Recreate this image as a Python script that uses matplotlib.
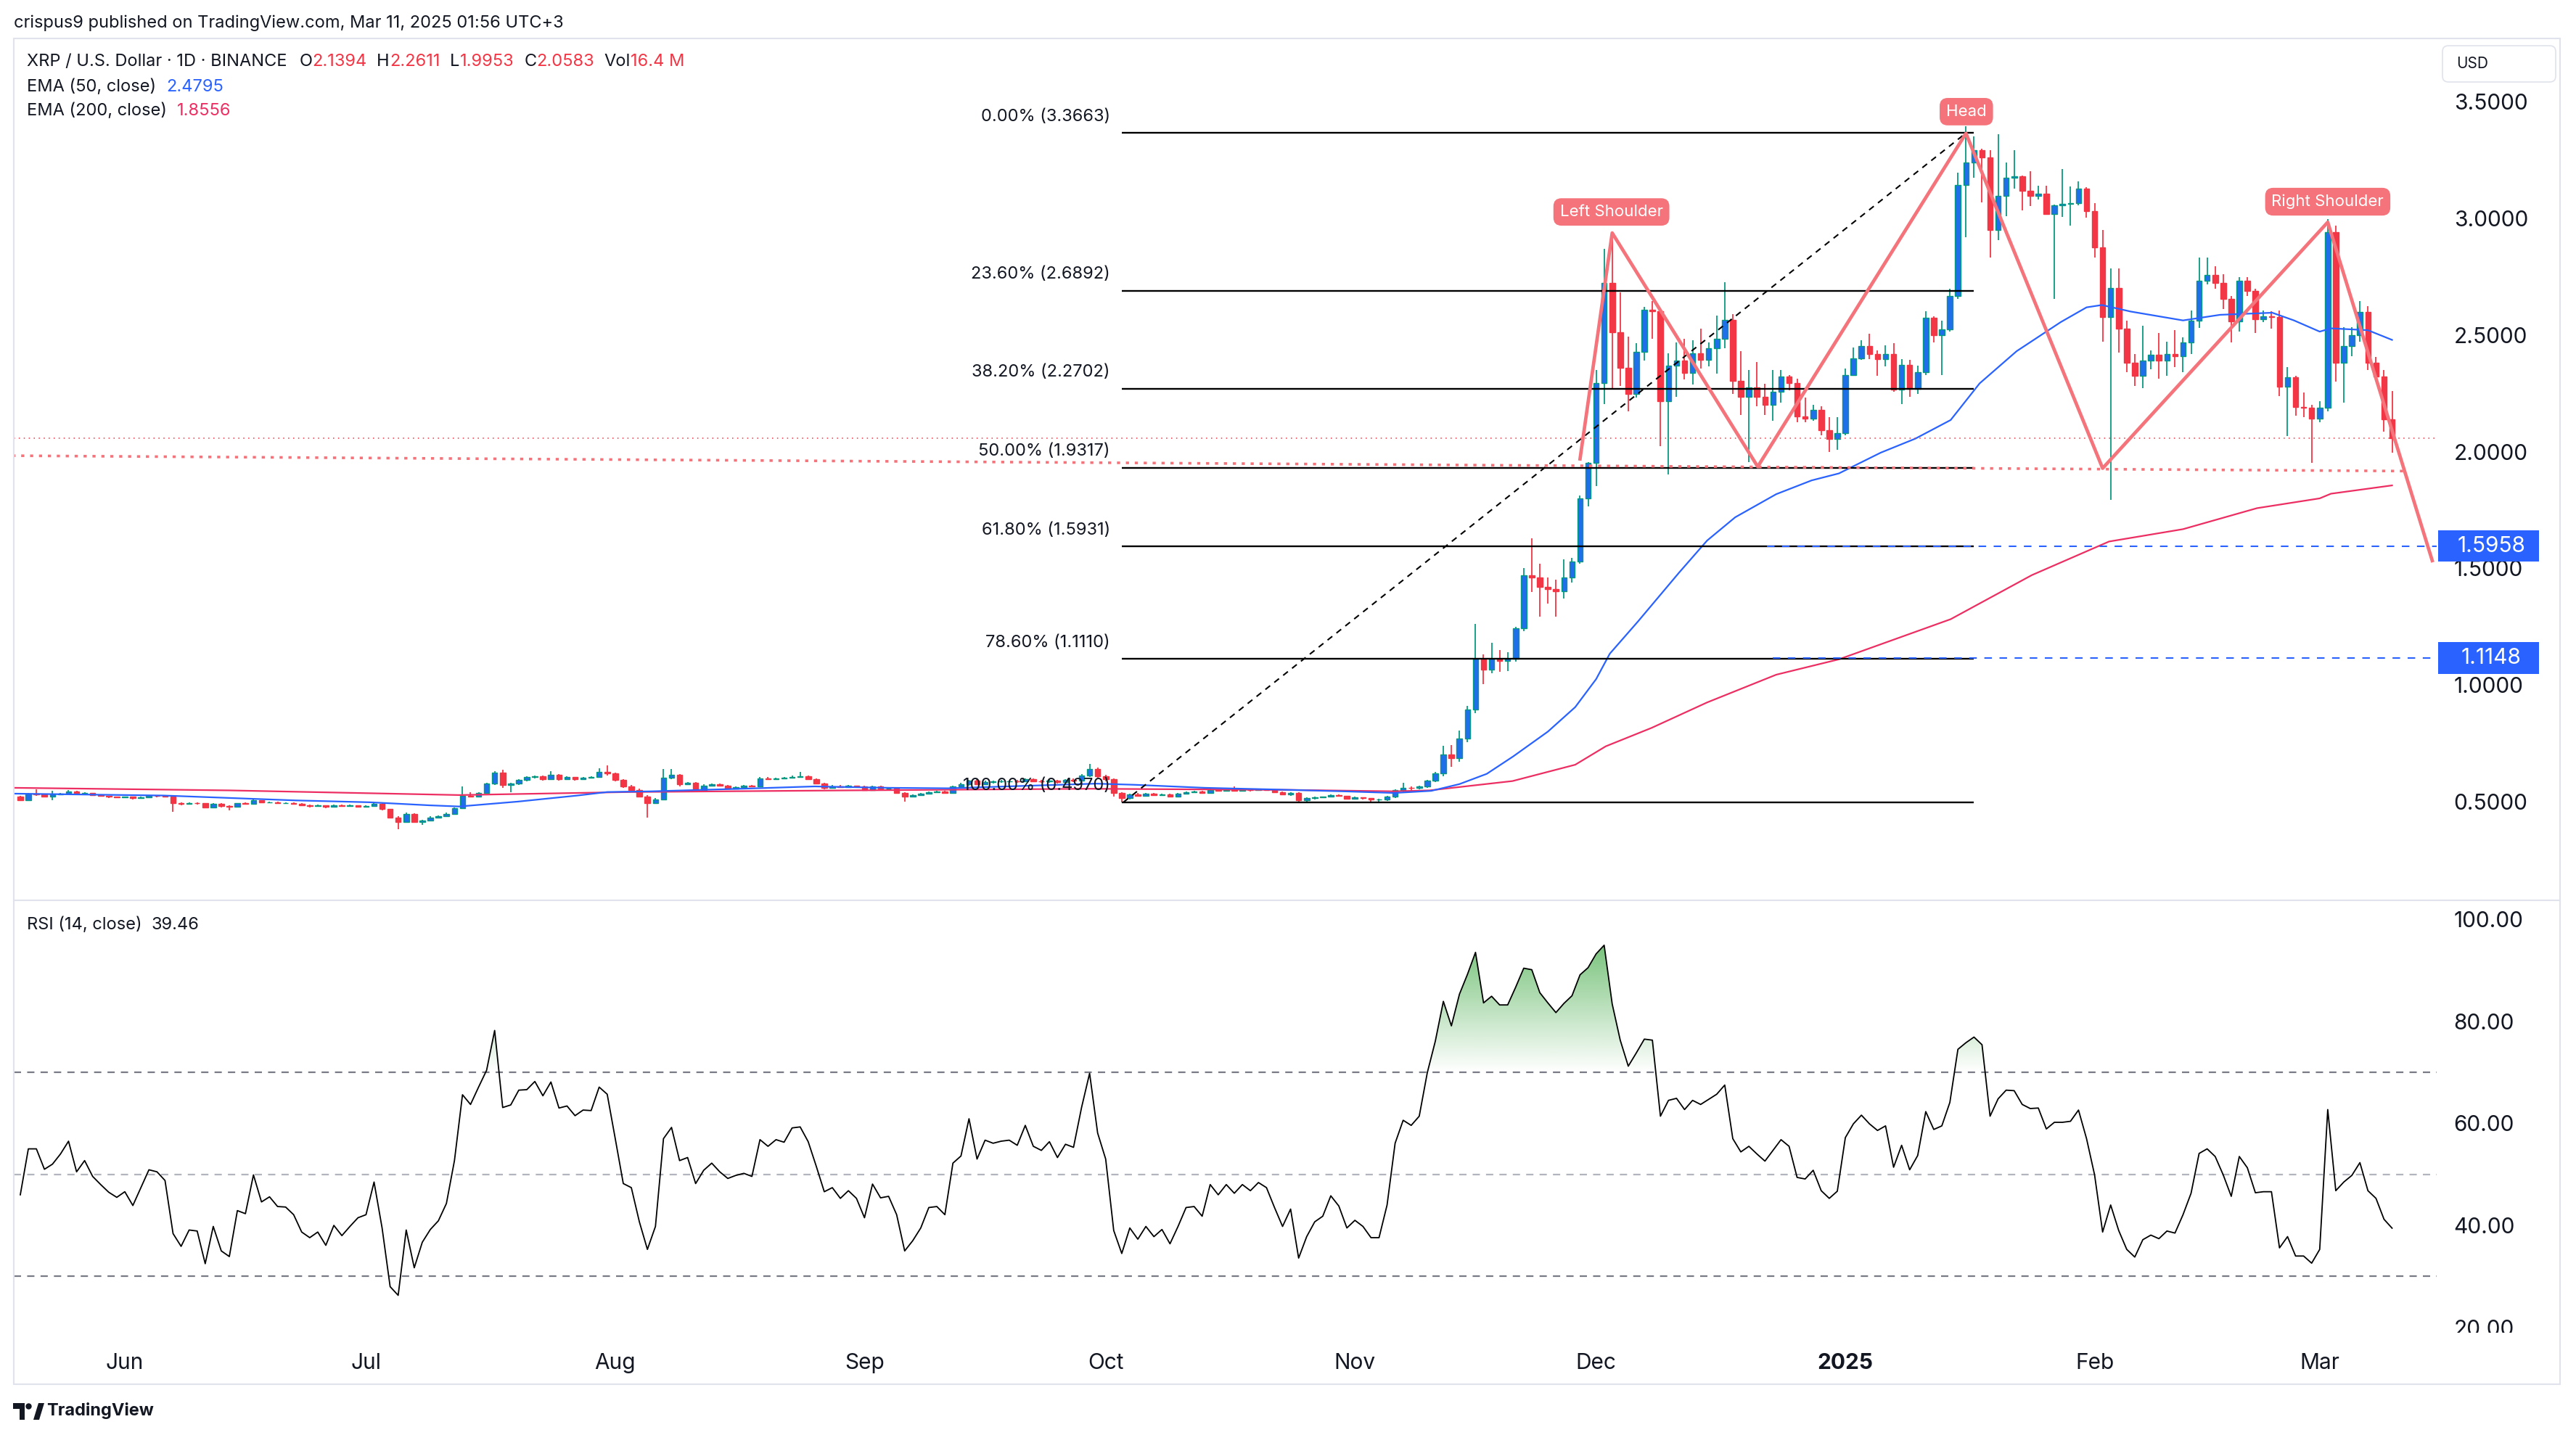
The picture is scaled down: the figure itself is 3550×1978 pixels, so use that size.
import numpy as np
import matplotlib
matplotlib.use("Agg")
import matplotlib.pyplot as plt
from matplotlib.patches import Rectangle, FancyBboxPatch, Circle, Polygon
from matplotlib.path import Path
from matplotlib.transforms import IdentityTransform
from matplotlib.colors import to_rgb

# ------------------------------------------------------------------ data
# day offsets are counted from 2024-06-01 (day 0); first candle = 2024-05-19
first_day = -13
first_open = 0.520

close = [
    0.507, 0.533, 0.530, 0.523, 0.531, 0.534, 0.544, 0.533, 0.537, 0.528,
    0.524, 0.520, 0.518, 0.520, 0.514, 0.519, 0.525, 0.524, 0.521, 0.495,
    0.490, 0.495, 0.494, 0.476, 0.490, 0.480, 0.477, 0.492, 0.491, 0.506,
    0.496, 0.498, 0.494, 0.494, 0.491, 0.483, 0.481, 0.483, 0.477, 0.484,
    0.480, 0.483, 0.479, 0.480, 0.490, 0.468, 0.432, 0.414, 0.448, 0.414,
    0.420, 0.432, 0.438, 0.448, 0.472, 0.526, 0.522, 0.536, 0.577, 0.624,
    0.570, 0.576, 0.592, 0.604, 0.608, 0.596, 0.614, 0.596, 0.604, 0.596,
    0.601, 0.606, 0.628, 0.620, 0.594, 0.566, 0.551, 0.522, 0.495, 0.509,
    0.603, 0.614, 0.575, 0.580, 0.548, 0.569, 0.573, 0.569, 0.557, 0.562,
    0.567, 0.566, 0.600, 0.597, 0.600, 0.602, 0.606, 0.610, 0.597, 0.579,
    0.558, 0.566, 0.563, 0.568, 0.565, 0.548, 0.566, 0.556, 0.557, 0.537,
    0.522, 0.528, 0.533, 0.540, 0.544, 0.537, 0.565, 0.573, 0.590, 0.575,
    0.584, 0.586, 0.587, 0.588, 0.586, 0.596, 0.588, 0.586, 0.591, 0.584,
    0.592, 0.590, 0.612, 0.640, 0.610, 0.596, 0.536, 0.515, 0.531, 0.526,
    0.533, 0.528, 0.531, 0.523, 0.533, 0.541, 0.542, 0.538, 0.551, 0.547,
    0.551, 0.547, 0.551, 0.548, 0.552, 0.550, 0.540, 0.530, 0.538, 0.505,
    0.514, 0.517, 0.520, 0.528, 0.524, 0.513, 0.517, 0.514, 0.508, 0.508,
    0.522, 0.548, 0.560, 0.558, 0.564, 0.590, 0.620, 0.702, 0.686, 0.769,
    0.895, 1.114, 1.065, 1.114, 1.104, 1.114, 1.243, 1.471, 1.461, 1.421,
    1.411, 1.401, 1.461, 1.530, 1.801, 1.951, 2.293, 2.724, 2.511, 2.359,
    2.247, 2.428, 2.610, 2.601, 2.216, 2.369, 2.392, 2.338, 2.421, 2.395,
    2.444, 2.483, 2.566, 2.304, 2.236, 2.276, 2.234, 2.200, 2.257, 2.321,
    2.293, 2.151, 2.141, 2.179, 2.091, 2.055, 2.079, 2.330, 2.400, 2.452,
    2.418, 2.397, 2.418, 2.267, 2.371, 2.270, 2.340, 2.573, 2.501, 2.525,
    2.667, 3.143, 3.240, 3.292, 3.262, 2.952, 3.098, 3.174, 3.181, 3.119,
    3.098, 3.105, 3.019, 3.056, 3.063, 3.066, 3.128, 3.031, 2.876, 2.577,
    2.702, 2.528, 2.383, 2.325, 2.392, 2.417, 2.392, 2.420, 2.411, 2.470,
    2.563, 2.734, 2.758, 2.723, 2.656, 2.559, 2.734, 2.688, 2.567, 2.581,
    2.577, 2.279, 2.320, 2.193, 2.188, 2.142, 2.188, 2.942, 2.383, 2.452,
    2.501, 2.598, 2.383, 2.323, 2.1394, 2.0583,
]
high = [
    0.525, 0.538, 0.552, 0.534, 0.545, 0.538, 0.548, 0.546, 0.540, 0.538,
    0.530, 0.526, 0.523, 0.523, 0.521, 0.521, 0.528, 0.528, 0.526, 0.523,
    0.498, 0.498, 0.498, 0.495, 0.493, 0.492, 0.484, 0.494, 0.496, 0.509,
    0.507, 0.501, 0.500, 0.497, 0.496, 0.492, 0.486, 0.486, 0.485, 0.487,
    0.486, 0.486, 0.485, 0.484, 0.493, 0.492, 0.470, 0.436, 0.452, 0.450,
    0.423, 0.436, 0.442, 0.452, 0.476, 0.565, 0.540, 0.540, 0.582, 0.630,
    0.636, 0.582, 0.597, 0.610, 0.612, 0.612, 0.630, 0.617, 0.608, 0.606,
    0.604, 0.610, 0.643, 0.655, 0.624, 0.597, 0.570, 0.556, 0.527, 0.514,
    0.640, 0.641, 0.617, 0.584, 0.584, 0.574, 0.578, 0.579, 0.572, 0.566,
    0.571, 0.571, 0.604, 0.604, 0.603, 0.606, 0.611, 0.627, 0.612, 0.600,
    0.582, 0.570, 0.572, 0.571, 0.569, 0.567, 0.569, 0.568, 0.560, 0.558,
    0.540, 0.531, 0.536, 0.543, 0.547, 0.546, 0.569, 0.580, 0.594, 0.597,
    0.589, 0.590, 0.592, 0.591, 0.592, 0.600, 0.598, 0.592, 0.595, 0.594,
    0.596, 0.598, 0.617, 0.660, 0.645, 0.614, 0.600, 0.540, 0.535, 0.536,
    0.537, 0.536, 0.534, 0.533, 0.536, 0.544, 0.547, 0.545, 0.555, 0.553,
    0.554, 0.566, 0.554, 0.553, 0.556, 0.555, 0.552, 0.543, 0.541, 0.540,
    0.517, 0.520, 0.523, 0.531, 0.530, 0.526, 0.520, 0.519, 0.516, 0.512,
    0.525, 0.552, 0.580, 0.566, 0.568, 0.594, 0.628, 0.738, 0.743, 0.806,
    0.910, 1.262, 1.130, 1.180, 1.150, 1.140, 1.250, 1.500, 1.630, 1.520,
    1.460, 1.450, 1.540, 1.545, 1.813, 1.956, 2.350, 2.871, 2.910, 2.682,
    2.495, 2.464, 2.620, 2.646, 2.599, 2.421, 2.470, 2.485, 2.477, 2.527,
    2.470, 2.584, 2.726, 2.589, 2.431, 2.350, 2.384, 2.290, 2.350, 2.350,
    2.330, 2.314, 2.231, 2.200, 2.195, 2.148, 2.148, 2.356, 2.446, 2.477,
    2.506, 2.433, 2.456, 2.466, 2.397, 2.394, 2.369, 2.601, 2.580, 2.563,
    2.698, 3.198, 3.396, 3.351, 3.299, 3.292, 3.362, 3.240, 3.292, 3.183,
    3.202, 3.140, 3.142, 3.060, 3.212, 3.137, 3.160, 3.133, 3.067, 2.952,
    2.786, 2.786, 2.563, 2.420, 2.540, 2.434, 2.508, 2.473, 2.522, 2.490,
    2.605, 2.831, 2.831, 2.795, 2.762, 2.667, 2.748, 2.748, 2.698, 2.605,
    2.601, 2.605, 2.362, 2.327, 2.254, 2.202, 2.216, 2.998, 2.970, 2.535,
    2.535, 2.647, 2.623, 2.406, 2.351, 2.2611,
]
low = [
    0.503, 0.505, 0.526, 0.519, 0.506, 0.527, 0.532, 0.530, 0.529, 0.525,
    0.520, 0.516, 0.514, 0.515, 0.510, 0.512, 0.516, 0.519, 0.517, 0.455,
    0.485, 0.487, 0.488, 0.472, 0.474, 0.476, 0.462, 0.474, 0.486, 0.489,
    0.492, 0.493, 0.490, 0.490, 0.487, 0.480, 0.476, 0.478, 0.473, 0.475,
    0.477, 0.478, 0.475, 0.476, 0.478, 0.463, 0.428, 0.380, 0.410, 0.408,
    0.401, 0.417, 0.428, 0.434, 0.443, 0.468, 0.517, 0.517, 0.533, 0.572,
    0.560, 0.541, 0.570, 0.588, 0.600, 0.590, 0.592, 0.590, 0.595, 0.591,
    0.594, 0.599, 0.603, 0.612, 0.588, 0.560, 0.546, 0.517, 0.432, 0.490,
    0.505, 0.595, 0.566, 0.572, 0.544, 0.545, 0.566, 0.565, 0.553, 0.556,
    0.560, 0.561, 0.563, 0.593, 0.595, 0.597, 0.598, 0.605, 0.593, 0.575,
    0.553, 0.555, 0.559, 0.560, 0.560, 0.545, 0.546, 0.552, 0.550, 0.533,
    0.500, 0.519, 0.525, 0.530, 0.538, 0.534, 0.535, 0.561, 0.568, 0.572,
    0.573, 0.578, 0.580, 0.582, 0.580, 0.584, 0.585, 0.580, 0.582, 0.578,
    0.578, 0.584, 0.588, 0.605, 0.603, 0.588, 0.522, 0.497, 0.510, 0.520,
    0.523, 0.524, 0.524, 0.518, 0.520, 0.530, 0.536, 0.534, 0.535, 0.543,
    0.543, 0.543, 0.544, 0.544, 0.545, 0.546, 0.537, 0.527, 0.526, 0.500,
    0.501, 0.510, 0.514, 0.517, 0.520, 0.509, 0.508, 0.509, 0.500, 0.501,
    0.504, 0.515, 0.540, 0.548, 0.552, 0.560, 0.585, 0.610, 0.650, 0.670,
    0.755, 0.880, 1.005, 1.050, 1.055, 1.060, 1.100, 1.230, 1.400, 1.292,
    1.350, 1.292, 1.370, 1.440, 1.520, 1.765, 1.853, 2.205, 2.273, 2.283,
    2.174, 2.231, 2.392, 2.485, 2.024, 1.902, 2.236, 2.309, 2.288, 2.356,
    2.366, 2.335, 2.444, 2.247, 2.159, 1.956, 2.195, 2.159, 2.133, 2.210,
    2.262, 2.127, 2.127, 2.133, 2.070, 1.998, 2.008, 2.070, 2.324, 2.395,
    2.397, 2.324, 2.366, 2.257, 2.205, 2.236, 2.247, 2.330, 2.470, 2.330,
    2.514, 2.655, 2.920, 3.174, 3.070, 2.834, 2.906, 3.010, 3.128, 3.035,
    3.053, 3.081, 3.015, 2.654, 3.008, 2.970, 3.056, 3.003, 2.831, 2.473,
    1.793, 2.424, 2.341, 2.281, 2.272, 2.355, 2.313, 2.327, 2.362, 2.341,
    2.420, 2.531, 2.716, 2.698, 2.612, 2.470, 2.515, 2.667, 2.508, 2.556,
    2.529, 2.237, 2.067, 2.154, 2.147, 1.952, 2.126, 2.174, 2.300, 2.212,
    2.411, 2.473, 2.351, 2.320, 2.087, 1.9953,
]
rsi = [
    46, 55, 55, 51, 52, 54, 56.5, 50.5, 52.7, 49.6,
    48, 46.5, 45.5, 46.6, 43.9, 47.4, 50.9, 50.5, 48.8, 38.4,
    35.9, 39.1, 38.9, 32.5, 39.8, 35, 33.9, 42.9, 42.3, 49.9,
    44.6, 45.6, 43.7, 43.6, 42.1, 38.7, 37.6, 38.7, 36.1, 40,
    38, 39.8, 41.5, 42.1, 48.5, 39.5, 28, 26.3, 39.1, 31.7,
    36.7, 39.2, 40.9, 44.3, 52.7, 65.6, 63.7, 67.1, 70.4, 78.2,
    63.1, 63.6, 66.5, 66.6, 68.2, 65.4, 68.1, 63, 63.4, 61.5,
    62.6, 62.5, 67.1, 65.7, 57, 48.2, 47.4, 40.7, 35.3, 39.8,
    57, 59.2, 52.7, 53.3, 48.2, 50.8, 52.2, 50.5, 49.2, 49.8,
    50.2, 49.6, 56.8, 55.5, 56.8, 56.3, 59.1, 59.3, 56.4, 51.6,
    46.6, 47.4, 45.3, 46.8, 45.3, 41.5, 48.1, 45.4, 45.7, 42.1,
    35, 37, 39.5, 43.5, 43.7, 42.1, 52.2, 53.6, 60.9, 53,
    56.7, 56.1, 56.5, 56.7, 55.7, 59.6, 55.5, 54.7, 56.4, 53.3,
    55.9, 55.3, 63.1, 69.8, 58.1, 53, 39, 34.5, 39.5, 37.3,
    39.8, 37.8, 39.2, 36.4, 39.8, 43.5, 43.7, 41.8, 48, 46,
    48, 46.3, 48, 46.8, 48.4, 47.4, 43.5, 39.8, 43.2, 33.6,
    37.8, 40.7, 41.8, 45.8, 43.8, 39.5, 41, 39.8, 37.6, 37.6,
    44, 56.1, 60.6, 59.6, 61.4, 69.9, 76.1, 83.9, 79.1, 85.3,
    89.2, 93.5, 83.6, 84.9, 83.2, 83.2, 86.7, 90.4, 90.1, 85.6,
    83.6, 81.7, 83.5, 85, 89.1, 90.5, 93.2, 94.9, 83.4, 76.3,
    71.2, 73.8, 76.5, 76.3, 61.4, 64.5, 64.9, 62.7, 64.5, 63.7,
    64.7, 65.7, 67.5, 57, 54.4, 55.5, 54, 52.6, 54.7, 56.8,
    55.5, 49.4, 49.1, 50.8, 46.8, 45.3, 46.7, 57.2, 59.9, 61.6,
    59.9, 58.6, 59.5, 51.4, 55.7, 50.9, 53.7, 62.3, 58.8, 59.5,
    64.1, 74.5, 75.8, 76.9, 75.4, 61.4, 64.8, 66.5, 66.4, 63.7,
    62.9, 63, 58.9, 60.2, 60.2, 60.4, 62.6, 57, 49.9, 38.7,
    44, 39, 35.3, 33.8, 37.2, 38.1, 37.4, 38.9, 38.5, 42.1,
    46.3, 54.1, 55, 53.5, 49.9, 45.7, 53.5, 51.3, 46.4, 46.6,
    46.6, 35.6, 37.8, 34, 34, 32.6, 35.3, 62.7, 46.8, 48.5,
    49.8, 52.3, 46.8, 45.3, 41.2, 39.46,
]

ema50_days = [-13.7, 4.8, 21.3, 30.5, 37.9, 41.6, 48.9, 56.3, 60, 65.5, 76.6, 85.8,
              95, 102.4, 113.4, 120.8, 125.6, 134.3, 142.9, 151.5, 157.9, 162.5, 166,
              169.4, 172.7, 177, 180.4, 183, 184.7, 188.2, 193.3, 196.8, 200.3, 205.4,
              209.8, 213.2, 218.4, 222.7, 227.1, 230.7, 235.3, 240.8, 244, 245.9, 249.5,
              256, 260.6, 267.1, 269.8, 273, 274.4, 279, 282]
ema50_vals = [0.534, 0.526, 0.505, 0.497, 0.484, 0.479, 0.500, 0.526, 0.541, 0.544, 0.555, 0.565,
              0.559, 0.557, 0.569, 0.577, 0.572, 0.559, 0.552, 0.544, 0.537, 0.546, 0.575,
              0.619, 0.694, 0.800, 0.905, 1.025, 1.134, 1.272, 1.481, 1.619, 1.719, 1.818,
              1.877, 1.907, 1.996, 2.056, 2.136, 2.293, 2.431, 2.556, 2.619, 2.629, 2.601,
              2.563, 2.587, 2.596, 2.563, 2.515, 2.529, 2.521, 2.4795]
ema200_days = [-13.7, 13, 41.6, 62.7, 90, 120, 145, 157.9, 162.3, 172.6, 180.4, 184.2,
               189.9, 196.8, 205.4, 213.2, 227.1, 237.2, 246.8, 256, 265.2, 273, 274.4, 282]
ema200_vals = [0.559, 0.548, 0.528, 0.541, 0.548, 0.555, 0.550, 0.544, 0.548, 0.588, 0.658, 0.737,
               0.816, 0.925, 1.044, 1.110, 1.282, 1.471, 1.615, 1.668, 1.758, 1.800, 1.820, 1.8556]

fib_pcts = ['0.00%', '23.60%', '38.20%', '50.00%', '61.80%', '78.60%', '100.00%']
fib_levels = [3.3663, 2.6892, 2.2702, 1.9317, 1.5931, 1.1110, 0.4970]
fib_span_days = [124, 230]
fib_diag_days = [124.2, 229]
fib_diag_prices = [0.4970, 3.3663]

hs_days = [181, 185, 203.1, 229, 246, 274, 287]
hs_prices = [1.969, 2.938, 1.936, 3.365, 1.929, 2.984, 1.533]
hs_labels = ['Left Shoulder', 'Head', 'Right Shoulder']
hs_label_days = [184.9, 229.05, 274]
hs_label_prices = [3.028, 3.458, 3.072]

neck_days = [-14, 283.6]
neck_prices = [1.983, 1.917]

targets = [1.5958, 1.1148]
target_start_days = [204.2, 205.0]
last_price = 2.0583

month_days = [0, 30, 61, 92, 122, 153, 183, 214, 245, 273]
month_labels = ['Jun', 'Jul', 'Aug', 'Sep', 'Oct', 'Nov', 'Dec', '2025', 'Feb', 'Mar']
price_ticks = [0.5, 1.0, 1.5, 2.0, 2.5, 3.0, 3.5]
rsi_ticks = [20, 40, 60, 80, 100]
rsi_levels = [70, 50, 30]

# ------------------------------------------------------------------ style
plt.rcParams['font.family'] = ['Inter', 'DejaVu Sans']
DARK = '#131722'
RED = '#F23645'
GREEN = '#089981'
UPFILL = '#1F6FEB'
BLUE = '#2962FF'
PINK = '#EC2E62'
SALMON = '#F5737A'
BORDER = '#E0E3EB'
AX_FS = 21.5
TXT_FS = 17

W, H, DPI = 3550, 1978, 100
fig = plt.figure(figsize=(W / DPI, H / DPI), dpi=DPI, facecolor='white')
ID = IdentityTransform()

PL, PR, PT, PB, RB = 19, 3358, 53, 1241, 1836


def fbox(x0, y0, x1, y1):
    return [x0 / W, 1 - y1 / H, (x1 - x0) / W, (y1 - y0) / H]


axp = fig.add_axes(fbox(PL, PT, PR, PB))
axr = fig.add_axes(fbox(PL, PB, PR, RB), sharex=axp)
for ax in (axp, axr):
    for s in ax.spines.values():
        s.set_visible(False)
    ax.set_facecolor('none')

# ------------------------------------------------------------------ candles
days = np.arange(first_day, first_day + len(close))
c = np.array(close)
h = np.array(high)
l = np.array(low)
o = np.concatenate([[first_open], c[:-1]])
up = c >= o
axp.vlines(days, l, h, colors=[GREEN if u else RED for u in up], lw=1.3, zorder=2)
axp.bar(days, np.abs(c - o), bottom=np.minimum(o, c), width=0.68,
        color=[UPFILL if u else RED for u in up],
        edgecolor=[GREEN if u else RED for u in up], linewidth=1.0, zorder=3)

axp.plot(ema200_days, ema200_vals, color=PINK, lw=1.6, zorder=4)
axp.plot(ema50_days, ema50_vals, color=BLUE, lw=1.6, zorder=4)

# last price dotted line
axp.axhline(last_price, color=RED, lw=1.1, ls=(0, (1, 3.5)), zorder=4)

# fib
axp.hlines(fib_levels, fib_span_days[0], fib_span_days[1], color='black', lw=1.7, zorder=5)
axp.plot(fib_diag_days, fib_diag_prices, color='black', lw=1.5, ls=(0, (4, 3.5)), zorder=5)
for pct, lvl in zip(fib_pcts, fib_levels):
    axp.annotate(f'{pct} ({lvl:.4f})', xy=(fib_span_days[0], lvl), xytext=(-11.5, 16.3),
                 textcoords='offset points', ha='right', va='center', fontsize=17,
                 color=DARK, zorder=8)

# neckline and H&S
axp.plot(neck_days, neck_prices, color=SALMON, lw=2.6, ls=(0, (1.2, 2.2)), zorder=5,
         dash_capstyle='butt')
axp.plot(hs_days, hs_prices, color=SALMON, lw=3.4, zorder=6, solid_joinstyle='round')
for lab, dx, py in zip(hs_labels, hs_label_days, hs_label_prices):
    axp.text(dx, py, lab, ha='center', va='center', color='white', fontsize=16, zorder=9,
             bbox=dict(boxstyle='round,pad=0.4,rounding_size=0.5', fc=SALMON, ec='none'))

# target lines
for t, sd in zip(targets, target_start_days):
    axp.plot([sd, 300], [t, t], color=BLUE, lw=1.5, ls=(0, (5, 5)), zorder=5)
    half = 21.75 / 321.5
    axp.add_patch(Rectangle((1.0006, t - half), 0.0416, 2 * half, transform=axp.get_yaxis_transform(),
                            facecolor=BLUE, edgecolor='none', clip_on=False, zorder=10))
    axp.text(1.0225, t, f'{t:.4f}', transform=axp.get_yaxis_transform(), ha='center', va='center',
             color='white', fontsize=AX_FS, zorder=11, clip_on=False)

axp.set_xlim(-13.81, 287.55)
axp.set_ylim(0.07667, 3.7719)
axp.yaxis.tick_right()
axp.set_yticks(price_ticks)
axp.set_yticklabels([f'{v:.4f}' for v in price_ticks])
axp.tick_params(axis='y', length=0, pad=17, labelsize=AX_FS, labelcolor=DARK)
axp.tick_params(axis='x', bottom=False, labelbottom=False)

# ------------------------------------------------------------------ RSI
rsi_arr = np.array(rsi, dtype=float)
for lv, colr in zip(rsi_levels, ['#787B86', '#B2B5BE', '#787B86']):
    axr.axhline(lv, color=colr, lw=1.6, ls=(0, (4.5, 3.8)), zorder=2)
fb = axr.fill_between(days, rsi_arr, 70, where=rsi_arr >= 70, interpolate=True,
                      facecolor='none', edgecolor='none')
paths = fb.get_paths()
if len(paths):
    clip = Path.make_compound_path(*paths)
    grad = np.zeros((256, 1, 4))
    grad[..., :3] = to_rgb('#4CAF50')
    grad[:, 0, 3] = np.linspace(0.0, 0.9, 256)
    im = axr.imshow(grad, extent=[days[0], days[-1], 70, 100], origin='lower', aspect='auto',
                    zorder=1, interpolation='bilinear')
    im.set_clip_path(clip, transform=axr.transData)
axr.plot(days, rsi_arr, color='black', lw=1.3, zorder=3)

axr.set_ylim(19.118, 103.696)
axr.set_xlim(-13.81, 287.55)
axr.yaxis.tick_right()
axr.set_yticks(rsi_ticks)
axr.set_yticklabels([f'{v:.2f}' for v in rsi_ticks])
axr.tick_params(axis='y', length=0, pad=17, labelsize=AX_FS, labelcolor=DARK)
axr.set_xticks(month_days)
axr.set_xticklabels(month_labels)
axr.tick_params(axis='x', length=0, pad=21, labelsize=AX_FS, labelcolor=DARK)
for tl in axr.get_xticklabels():
    if tl.get_text() == '2025':
        tl.set_fontweight('bold')

# ------------------------------------------------------------------ frame / texts
fig.add_artist(Rectangle((3359, H - 1852), 168, 15.5, transform=ID, facecolor='white',
                         edgecolor='none', zorder=20))
fig.add_artist(Rectangle((19, H - 1908), 3509, 1855, transform=ID, facecolor='none',
                         edgecolor=BORDER, lw=1.5, zorder=21))
fig.add_artist(plt.Line2D([19, 3528], [H - 1241, H - 1241], transform=ID, color=BORDER, lw=1.5,
                          zorder=21))
fig.add_artist(FancyBboxPatch((3366, H - 113), 156, 50, boxstyle='round,pad=0,rounding_size=8',
                              transform=ID, facecolor='white', edgecolor=BORDER, lw=1.2, zorder=21))
fig.text(3385 / W, 1 - 88 / H, 'USD', fontsize=15, color=DARK, va='center', ha='left', zorder=22)

fig.text(19 / W, 1 - 32 / H, 'crispus9 published on TradingView.com, Mar 11, 2025 01:56 UTC+3',
         fontsize=TXT_FS, color=DARK, va='center', ha='left')


def chain(x, y, parts):
    prev = fig.text(x / W, 1 - y / H, parts[0][0], color=parts[0][1], fontsize=TXT_FS,
                    va='center', ha='left')
    for s, col, gap in parts[1:]:
        prev = axp.annotate(s, xy=(1, 0.5), xycoords=prev, xytext=(gap, 0),
                            textcoords='offset points', va='center', ha='left', color=col,
                            fontsize=TXT_FS, annotation_clip=False)


chain(37, 85, [('XRP / U.S. Dollar · 1D · BINANCE', DARK), ('O', DARK, 12), ('2.1394', RED, 0),
               ('H', DARK, 10), ('2.2611', RED, 0), ('L', DARK, 10), ('1.9953', RED, 0),
               ('C', DARK, 10), ('2.0583', RED, 0), ('Vol', DARK, 10), ('16.4 M', RED, 0)])
chain(37, 120, [('EMA (50, close)', DARK), ('2.4795', BLUE, 10)])
chain(37, 153, [('EMA (200, close)', DARK), ('1.8556', PINK, 10)])
chain(37, 1275, [('RSI (14, close)', DARK), ('39.46', DARK, 9)])

# TradingView logo
fig.add_artist(Polygon([(18, H - 1934), (34, H - 1934), (34, H - 1957), (27, H - 1957),
                        (27, H - 1942), (18, H - 1942)], closed=True, transform=ID,
                       facecolor=DARK, edgecolor='none'))
fig.add_artist(Circle((39.5, H - 1938.5), 4.2, transform=ID, facecolor=DARK, edgecolor='none'))
fig.add_artist(Polygon([(46, H - 1957), (53, H - 1934), (61, H - 1934), (54, H - 1957)],
                       closed=True, transform=ID, facecolor=DARK, edgecolor='none'))
fig.text(64 / W, 1 - 1945 / H, 'TradingView', fontsize=17, fontweight='bold', color=DARK,
         va='center', ha='left')

fig.savefig('out.png', dpi=DPI, facecolor='white')
